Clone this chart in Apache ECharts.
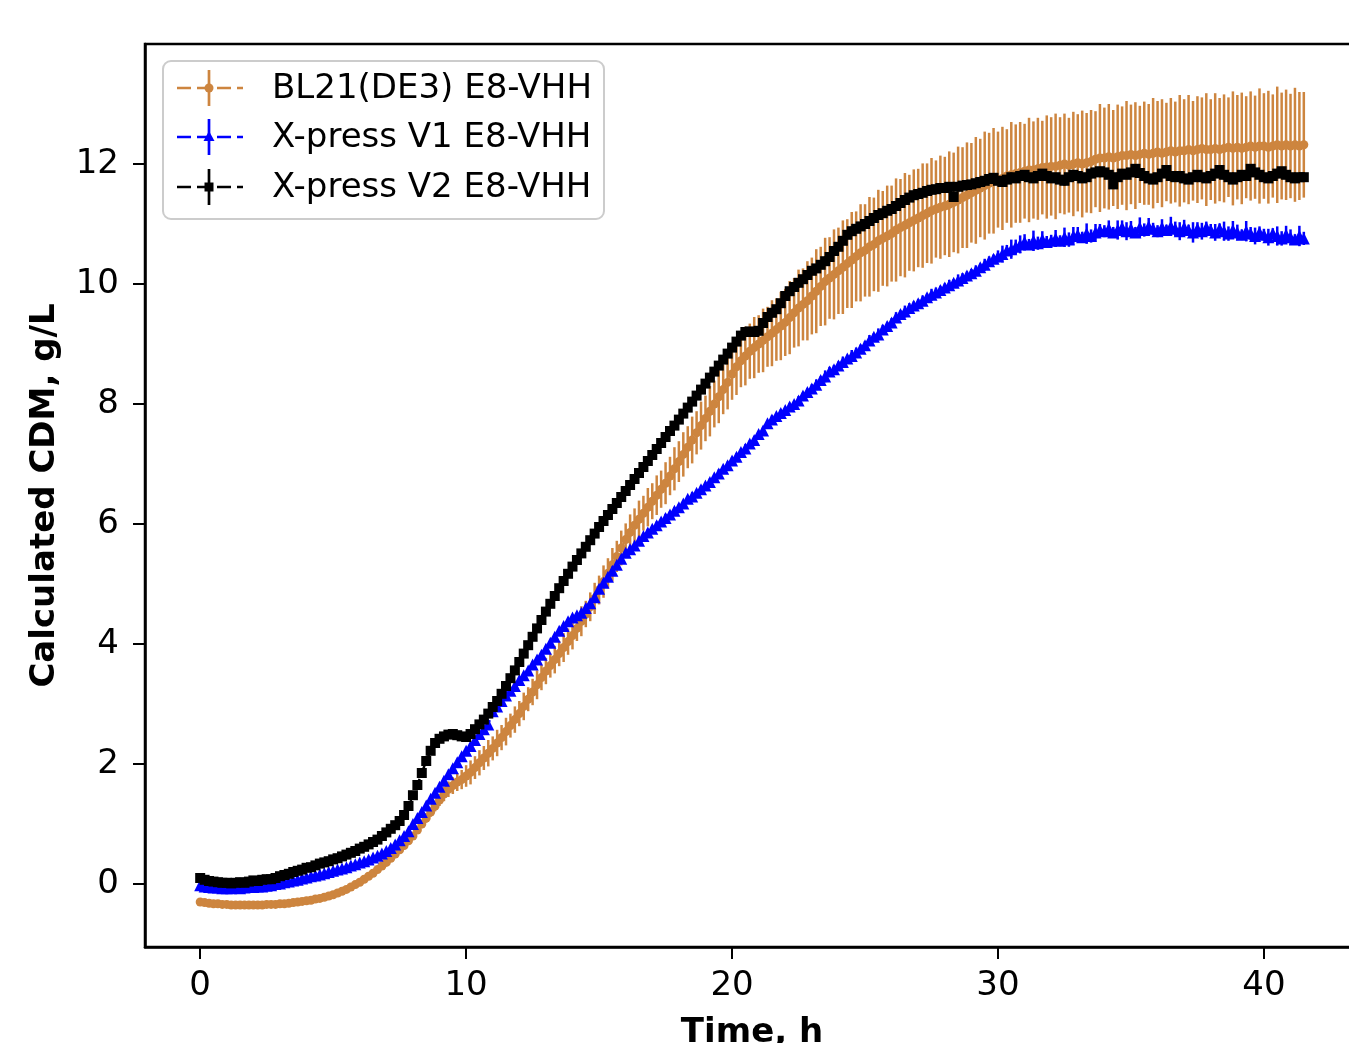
<!DOCTYPE html>
<html><head><meta charset="utf-8">
<script src="https://cdn.jsdelivr.net/npm/echarts@6/dist/echarts.min.js"></script>
<style>html,body{margin:0;padding:0;background:#fff;overflow:hidden}#c{width:1349px;height:1043px}</style>
</head><body><div id="c"></div>
<script>
// sampling grid: one reading every 10 minutes, 0 h to 41.5 h
const STEP_H = 1/6;
const seriesNames = ['BL21(DE3) E8-VHH', 'X-press V1 E8-VHH', 'X-press V2 E8-VHH'];
const xTicks = [0, 10, 20, 30, 40];
const yTicks = [0, 2, 4, 6, 8, 10, 12];

const bl21Mean = [
-0.30,-0.31,-0.32,-0.33,-0.33,-0.34,
-0.34,-0.35,-0.35,-0.35,-0.35,-0.35,
-0.35,-0.35,-0.35,-0.34,-0.34,-0.34,
-0.33,-0.33,-0.32,-0.31,-0.30,-0.29,
-0.28,-0.27,-0.25,-0.24,-0.22,-0.20,
-0.18,-0.15,-0.12,-0.09,-0.05,-0.01,
0.03,0.08,0.13,0.18,0.24,0.30,
0.36,0.43,0.50,0.57,0.64,0.72,
0.80,0.90,1.00,1.10,1.20,1.30,
1.40,1.50,1.58,1.64,1.70,1.74,
1.80,1.86,1.94,2.02,2.10,2.18,
2.26,2.35,2.44,2.54,2.64,2.74,
2.84,2.96,3.08,3.20,3.32,3.44,
3.55,3.64,3.74,3.84,3.94,4.04,
4.14,4.26,4.38,4.50,4.62,4.76,
4.90,5.04,5.18,5.32,5.46,5.60,
5.74,5.86,5.98,6.08,6.18,6.28,
6.38,6.48,6.58,6.68,6.80,6.92,
7.04,7.16,7.28,7.40,7.52,7.64,
7.76,7.88,8.00,8.12,8.24,8.36,
8.50,8.62,8.72,8.80,8.88,8.94,
9.00,9.06,9.12,9.18,9.24,9.30,
9.36,9.44,9.52,9.60,9.66,9.72,
9.80,9.88,9.96,10.04,10.10,10.16,
10.22,10.28,10.34,10.40,10.46,10.52,
10.56,10.62,10.66,10.72,10.76,10.80,
10.84,10.90,10.94,10.98,11.02,11.06,
11.10,11.14,11.18,11.22,11.25,11.28,
11.30,11.33,11.36,11.40,11.44,11.48,
11.52,11.56,11.60,11.64,11.68,11.72,
11.74,11.76,11.80,11.82,11.84,11.86,
11.88,11.90,11.90,11.92,11.94,11.95,
11.96,11.96,11.98,12.00,11.98,12.00,
12.02,12.00,12.02,12.04,12.08,12.10,
12.10,12.12,12.10,12.12,12.14,12.14,
12.16,12.14,12.16,12.18,12.16,12.18,
12.20,12.18,12.20,12.22,12.20,12.22,
12.22,12.24,12.22,12.24,12.26,12.24,
12.24,12.26,12.24,12.26,12.28,12.26,
12.28,12.26,12.28,12.30,12.28,12.30,
12.30,12.28,12.30,12.32,12.30,12.32,
12.30,12.32,12.30,12.32
];
const bl21Err = [
0.03,0.02,0.03,0.03,0.02,0.03,
0.03,0.02,0.03,0.03,0.02,0.03,
0.03,0.02,0.03,0.03,0.02,0.03,
0.03,0.02,0.03,0.03,0.02,0.03,
0.03,0.02,0.03,0.03,0.02,0.03,
0.03,0.02,0.03,0.03,0.02,0.03,
0.03,0.02,0.03,0.03,0.02,0.03,
0.04,0.04,0.05,0.04,0.05,0.05,
0.06,0.06,0.07,0.08,0.08,0.09,
0.10,0.12,0.13,0.14,0.15,0.16,
0.18,0.20,0.19,0.21,0.20,0.22,
0.20,0.22,0.21,0.23,0.20,0.22,
0.21,0.23,0.20,0.22,0.24,0.21,
0.22,0.20,0.23,0.21,0.24,0.22,
0.23,0.21,0.25,0.22,0.24,0.26,
0.24,0.27,0.25,0.28,0.26,0.29,
0.27,0.30,0.28,0.31,0.29,0.32,
0.30,0.33,0.31,0.35,0.32,0.36,
0.34,0.37,0.35,0.39,0.36,0.40,
0.38,0.42,0.39,0.44,0.41,0.45,
0.43,0.47,0.44,0.49,0.46,0.51,
0.48,0.53,0.50,0.55,0.52,0.57,
0.56,0.61,0.58,0.64,0.60,0.66,
0.64,0.70,0.66,0.73,0.68,0.75,
0.72,0.78,0.74,0.80,0.75,0.81,
0.77,0.83,0.78,0.85,0.79,0.84,
0.80,0.86,0.81,0.87,0.80,0.85,
0.82,0.87,0.83,0.88,0.81,0.86,
0.82,0.88,0.83,0.89,0.84,0.88,
0.83,0.89,0.82,0.90,0.84,0.88,
0.80,0.86,0.78,0.88,0.82,0.84,
0.79,0.87,0.81,0.85,0.78,0.86,
0.82,0.88,0.80,0.84,0.79,0.87,
0.81,0.89,0.83,0.86,0.80,0.90,
0.84,0.88,0.80,0.87,0.82,0.91,
0.83,0.89,0.81,0.86,0.84,0.92,
0.85,0.90,0.82,0.88,0.84,0.93,
0.86,0.91,0.83,0.89,0.85,0.94,
0.84,0.92,0.86,0.90,0.83,0.95,
0.87,0.93,0.85,0.91,0.86,0.96,
0.88,0.94,0.86,0.97,0.89,0.92,
0.87,0.95,0.90,0.88
];
const v1Mean = [
-0.02,-0.04,-0.05,-0.06,-0.06,-0.07,
-0.07,-0.07,-0.06,-0.07,-0.06,-0.05,
-0.05,-0.04,-0.04,-0.03,-0.02,0.00,
0.01,0.03,0.04,0.06,0.07,0.09,
0.11,0.13,0.14,0.16,0.18,0.20,
0.22,0.24,0.26,0.28,0.31,0.33,
0.36,0.38,0.41,0.44,0.47,0.51,
0.55,0.60,0.66,0.73,0.80,0.88,
1.00,1.10,1.20,1.31,1.42,1.52,
1.62,1.72,1.83,1.93,2.03,2.13,
2.22,2.30,2.40,2.50,2.58,2.66,
2.88,2.96,3.05,3.14,3.22,3.30,
3.40,3.48,3.56,3.66,3.74,3.82,
3.92,4.02,4.12,4.22,4.30,4.38,
4.44,4.48,4.52,4.60,4.68,4.78,
4.92,5.02,5.12,5.22,5.32,5.42,
5.52,5.58,5.64,5.72,5.80,5.86,
5.92,5.98,6.04,6.10,6.16,6.22,
6.28,6.34,6.42,6.46,6.52,6.58,
6.64,6.70,6.78,6.84,6.92,6.98,
7.06,7.12,7.20,7.26,7.34,7.40,
7.50,7.56,7.68,7.74,7.80,7.85,
7.90,7.96,8.00,8.06,8.14,8.20,
8.26,8.32,8.40,8.46,8.54,8.58,
8.64,8.70,8.76,8.80,8.86,8.92,
8.98,9.06,9.12,9.16,9.24,9.30,
9.36,9.44,9.50,9.54,9.60,9.64,
9.68,9.72,9.78,9.82,9.86,9.90,
9.94,9.98,10.02,10.06,10.10,10.14,
10.18,10.22,10.28,10.32,10.38,10.42,
10.46,10.50,10.56,10.58,10.62,10.66,
10.70,10.66,10.72,10.68,10.74,10.70,
10.72,10.76,10.72,10.78,10.74,10.80,
10.82,10.78,10.84,10.80,10.86,10.90,
10.88,10.92,10.86,10.90,10.94,10.88,
10.92,10.86,10.94,10.90,10.96,10.92,
10.88,10.94,10.90,10.96,10.92,10.88,
10.94,10.90,10.86,10.92,10.88,10.94,
10.90,10.86,10.92,10.88,10.84,10.90,
10.86,10.82,10.88,10.84,10.80,10.86,
10.82,10.78,10.84,10.80,10.76,10.82,
10.78,10.74,10.80,10.76
];
const v1Err = [
0.02,0.02,0.03,0.02,0.02,0.03,
0.02,0.02,0.03,0.02,0.02,0.03,
0.02,0.02,0.03,0.02,0.02,0.03,
0.02,0.02,0.03,0.02,0.02,0.03,
0.02,0.02,0.03,0.02,0.02,0.03,
0.02,0.02,0.03,0.02,0.02,0.03,
0.02,0.02,0.03,0.02,0.02,0.03,
0.02,0.02,0.03,0.02,0.02,0.03,
0.03,0.04,0.03,0.05,0.04,0.03,
0.03,0.04,0.03,0.05,0.04,0.03,
0.03,0.04,0.03,0.05,0.04,0.03,
0.03,0.04,0.03,0.05,0.04,0.03,
0.03,0.04,0.03,0.05,0.04,0.03,
0.03,0.04,0.03,0.05,0.04,0.03,
0.03,0.04,0.03,0.05,0.04,0.03,
0.05,0.06,0.04,0.07,0.05,0.06,
0.05,0.06,0.04,0.07,0.05,0.06,
0.05,0.06,0.04,0.07,0.05,0.06,
0.05,0.06,0.04,0.07,0.05,0.06,
0.05,0.06,0.04,0.07,0.05,0.06,
0.05,0.06,0.04,0.07,0.05,0.06,
0.05,0.06,0.04,0.07,0.05,0.06,
0.05,0.06,0.04,0.07,0.05,0.06,
0.07,0.09,0.06,0.10,0.08,0.07,
0.07,0.09,0.06,0.10,0.08,0.07,
0.07,0.09,0.06,0.10,0.08,0.07,
0.07,0.09,0.06,0.10,0.08,0.07,
0.07,0.09,0.06,0.10,0.08,0.07,
0.07,0.09,0.06,0.10,0.08,0.07,
0.07,0.09,0.06,0.10,0.08,0.07,
0.10,0.14,0.09,0.16,0.12,0.15,
0.13,0.09,0.17,0.11,0.14,0.10,
0.10,0.14,0.09,0.16,0.12,0.15,
0.13,0.09,0.17,0.11,0.14,0.10,
0.10,0.14,0.09,0.16,0.12,0.15,
0.13,0.09,0.17,0.11,0.14,0.10,
0.10,0.14,0.09,0.16,0.12,0.15,
0.13,0.09,0.17,0.11,0.14,0.10,
0.10,0.14,0.09,0.16,0.12,0.15,
0.13,0.09,0.17,0.11,0.14,0.10,
0.10,0.14,0.09,0.16,0.12,0.15,
0.13,0.09,0.17,0.11
];
const v2Mean = [
0.10,0.07,0.05,0.04,0.03,0.02,
0.02,0.01,0.02,0.03,0.02,0.04,
0.06,0.05,0.07,0.08,0.08,0.10,
0.13,0.15,0.17,0.20,0.22,0.24,
0.27,0.28,0.31,0.34,0.36,0.38,
0.41,0.43,0.46,0.49,0.52,0.55,
0.59,0.62,0.66,0.70,0.74,0.80,
0.86,0.92,0.98,1.05,1.15,1.30,
1.48,1.65,1.85,2.05,2.22,2.35,
2.42,2.46,2.49,2.50,2.48,2.46,
2.45,2.50,2.58,2.66,2.74,2.84,
2.95,3.05,3.17,3.30,3.43,3.56,
3.70,3.84,3.98,4.12,4.26,4.40,
4.54,4.67,4.80,4.93,5.05,5.17,
5.29,5.40,5.51,5.62,5.73,5.84,
5.95,6.05,6.15,6.25,6.35,6.45,
6.55,6.65,6.75,6.85,6.95,7.05,
7.15,7.25,7.35,7.45,7.55,7.64,
7.74,7.84,7.94,8.04,8.14,8.24,
8.34,8.44,8.54,8.64,8.74,8.84,
8.94,9.04,9.14,9.20,9.21,9.20,
9.22,9.35,9.45,9.52,9.58,9.68,
9.80,9.88,9.95,10.02,10.08,10.15,
10.22,10.26,10.32,10.38,10.45,10.55,
10.62,10.72,10.82,10.88,10.92,10.96,
11.00,11.05,11.10,11.15,11.18,11.22,
11.25,11.30,11.35,11.40,11.44,11.48,
11.50,11.52,11.55,11.57,11.58,11.60,
11.60,11.62,11.45,11.62,11.64,11.65,
11.66,11.68,11.70,11.72,11.75,11.77,
11.72,11.70,11.74,11.78,11.76,11.80,
11.82,11.78,11.76,11.80,11.84,11.80,
11.76,11.78,11.74,11.72,11.78,11.82,
11.80,11.76,11.78,11.84,11.86,11.88,
11.86,11.82,11.66,11.78,11.84,11.82,
11.86,11.92,11.85,11.80,11.76,11.74,
11.78,11.84,11.90,11.80,11.78,11.80,
11.76,11.74,11.78,11.82,11.78,11.76,
11.80,11.84,11.90,11.82,11.78,11.74,
11.78,11.82,11.80,11.92,11.86,11.82,
11.78,11.76,11.80,11.84,11.88,11.82,
11.78,11.76,11.78,11.78
];
const v2Err = [
0.02,0.03,0.02,0.03,0.02,0.03,
0.02,0.03,0.02,0.03,0.02,0.03,
0.02,0.03,0.02,0.03,0.02,0.03,
0.02,0.03,0.02,0.03,0.02,0.03,
0.02,0.03,0.02,0.03,0.02,0.03,
0.02,0.03,0.02,0.03,0.02,0.03,
0.02,0.03,0.02,0.03,0.02,0.03,
0.02,0.03,0.02,0.03,0.02,0.03,
0.02,0.03,0.02,0.03,0.02,0.03,
0.02,0.03,0.02,0.03,0.02,0.03,
0.02,0.03,0.02,0.03,0.02,0.03,
0.02,0.03,0.02,0.03,0.02,0.03,
0.02,0.03,0.02,0.03,0.02,0.03,
0.02,0.03,0.02,0.03,0.02,0.03,
0.02,0.03,0.02,0.03,0.02,0.03,
0.02,0.03,0.02,0.03,0.02,0.03,
0.02,0.03,0.02,0.03,0.02,0.03,
0.02,0.03,0.02,0.03,0.02,0.03,
0.02,0.03,0.02,0.03,0.02,0.03,
0.02,0.03,0.02,0.03,0.02,0.03,
0.02,0.03,0.02,0.03,0.02,0.03,
0.04,0.07,0.05,0.08,0.04,0.06,
0.04,0.07,0.05,0.08,0.04,0.06,
0.04,0.07,0.05,0.08,0.04,0.06,
0.04,0.07,0.05,0.08,0.04,0.06,
0.04,0.07,0.05,0.08,0.04,0.06,
0.04,0.07,0.05,0.08,0.04,0.06,
0.04,0.07,0.05,0.08,0.04,0.06,
0.04,0.07,0.05,0.08,0.04,0.06,
0.04,0.07,0.05,0.08,0.04,0.06,
0.04,0.07,0.05,0.08,0.04,0.06,
0.04,0.07,0.05,0.08,0.04,0.06,
0.04,0.07,0.05,0.08,0.04,0.06,
0.04,0.07,0.05,0.08,0.04,0.06,
0.04,0.07,0.05,0.08,0.04,0.06,
0.04,0.07,0.05,0.08,0.04,0.06,
0.04,0.07,0.05,0.08,0.04,0.06,
0.04,0.07,0.05,0.08,0.04,0.06,
0.04,0.07,0.05,0.08,0.04,0.06,
0.04,0.07,0.05,0.08,0.04,0.06,
0.04,0.07,0.05,0.08,0.04,0.06,
0.04,0.07,0.05,0.08
];

const COLORS = ['#CD853F', '#0000FF', '#000000'];
const FONT = '"DejaVu Sans", sans-serif';
const FS = 34;

function pts(mean, err) {
  return mean.map((v, i) => [+(i * STEP_H).toFixed(4), v, err[i]]);
}
function errSeries(data, color, z) {
  return {
    type: 'custom', z: z, silent: true, animation: false, clip: false,
    data: data, encode: { x: 0, y: 1 },
    renderItem: function (params, api) {
      const x = api.value(0), y = api.value(1), e = api.value(2);
      const a = api.coord([x, y - e]), b = api.coord([x, y + e]);
      return { type: 'line', shape: { x1: a[0], y1: a[1], x2: b[0], y2: b[1] },
               style: { stroke: color, lineWidth: 2.5 } };
    }
  };
}
function lineSeries(name, data, color, symbol, size, z) {
  return {
    type: 'line', name: name, z: z, silent: true, animation: false,
    data: data.map(d => [d[0], d[1]]),
    symbol: symbol, symbolSize: size, showSymbol: true, showAllSymbol: true,
    lineStyle: { color: color, width: 2.5, type: [10, 4] },
    itemStyle: { color: color, borderWidth: 0 }
  };
}

const d0 = pts(bl21Mean, bl21Err), d1 = pts(v1Mean, v1Err), d2 = pts(v2Mean, v2Err);

// legend drawn as graphic (matplotlib errorbar handle)
const legendRows = [88, 137, 187];
const legendGraphic = [{
  type: 'rect', shape: { x: 163, y: 61, width: 441, height: 158, r: 8 },
  style: { fill: 'rgba(255,255,255,0.8)', stroke: '#cccccc', lineWidth: 2 }, z: 100
}];
legendRows.forEach((y, i) => {
  const c = COLORS[i];
  legendGraphic.push({ type: 'line', z: 101, shape: { x1: 177, y1: y, x2: 243, y2: y },
    style: { stroke: c, lineWidth: 2.7, lineDash: [14, 6] } });
  legendGraphic.push({ type: 'line', z: 101, shape: { x1: 209, y1: y - 18, x2: 209, y2: y + 18 },
    style: { stroke: c, lineWidth: 2.7 } });
  if (i === 0) legendGraphic.push({ type: 'circle', z: 102, shape: { cx: 209, cy: y, r: 4.5 }, style: { fill: c } });
  if (i === 1) legendGraphic.push({ type: 'polygon', z: 102, shape: { points: [[209, y - 6], [203.5, y + 4], [214.5, y + 4]] }, style: { fill: c } });
  if (i === 2) legendGraphic.push({ type: 'rect', z: 102, shape: { x: 204.5, y: y - 4.5, width: 9, height: 9 }, style: { fill: c } });
  legendGraphic.push({ type: 'text', z: 102, style: { text: seriesNames[i], x: 272, y: y + 1,
    font: FS + 'px ' + FONT, fill: '#000', align: 'left', verticalAlign: 'middle',
    textAlign: 'left', textVerticalAlign: 'middle' } });
});

const chart = echarts.init(document.getElementById('c'), null, { renderer: 'canvas', width: 1349, height: 1043 });
chart.setOption({
  animation: false,
  backgroundColor: '#ffffff',
  grid: { left: 145, top: 44, width: 1214, height: 903, show: true, borderColor: '#000', borderWidth: 2.5,
          containLabel: false, outerBoundsMode: 'none' },
  xAxis: {
    type: 'value', min: -2.075, max: 43.575,
    name: 'Time, h', nameLocation: 'middle', nameGap: 69,
    nameTextStyle: { fontSize: FS, fontWeight: 'bold', fontFamily: FONT, color: '#000' },
    axisLine: { show: true, onZero: false, lineStyle: { color: '#000', width: 2.5 } },
    axisTick: { show: true, length: 12, lineStyle: { color: '#000', width: 2 }, customValues: xTicks },
    axisLabel: { fontSize: FS, fontFamily: FONT, color: '#000', margin: 22, customValues: xTicks },
    splitLine: { show: false }
  },
  yAxis: {
    type: 'value', min: -1.05, max: 14.0,
    name: 'Calculated CDM, g/L', nameLocation: 'middle', nameGap: 83,
    nameTextStyle: { fontSize: FS, fontWeight: 'bold', fontFamily: FONT, color: '#000' },
    axisLine: { show: true, onZero: false, lineStyle: { color: '#000', width: 2.5 } },
    axisTick: { show: true, length: 12, lineStyle: { color: '#000', width: 2 }, customValues: yTicks },
    axisLabel: { fontSize: FS, fontFamily: FONT, color: '#000', margin: 26, customValues: yTicks },
    splitLine: { show: false }
  },
  series: [
    errSeries(d0, COLORS[0], 2),
    lineSeries(seriesNames[0], d0, COLORS[0], 'circle', 9, 3),
    errSeries(d1, COLORS[1], 4),
    lineSeries(seriesNames[1], d1, COLORS[1], 'triangle', 12, 5),
    errSeries(d2, COLORS[2], 6),
    lineSeries(seriesNames[2], d2, COLORS[2], 'rect', 10, 7)
  ],
  graphic: legendGraphic
});
</script>
</body></html>
